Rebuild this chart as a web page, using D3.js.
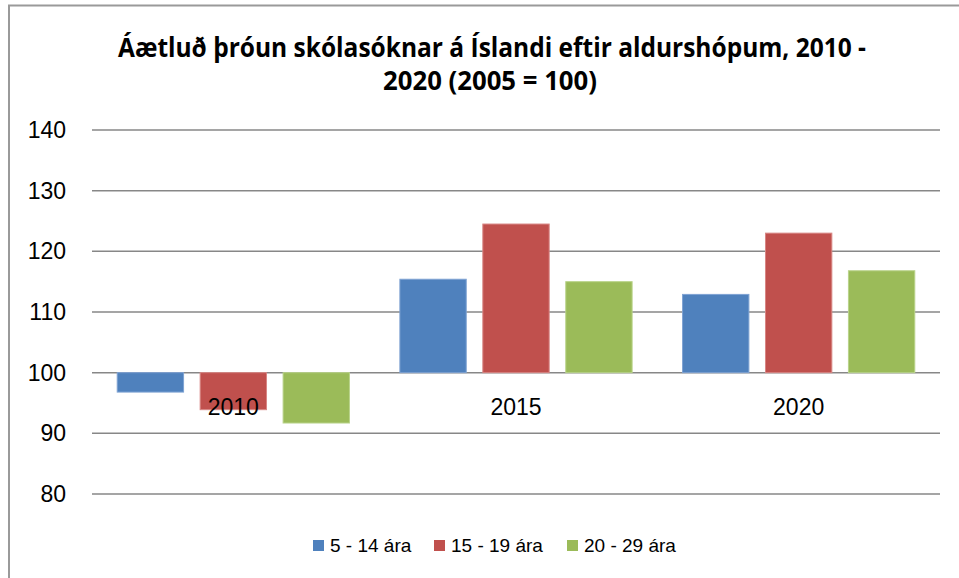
<!DOCTYPE html>
<html lang="is">
<head>
  <meta charset="UTF-8">
  <title>Áætluð þróun skólasóknar</title>
  <script src="https://d3js.org/d3.v7.min.js"></script>
  <style>
    body { margin: 0; background: #fff; }
    svg text { font-family: "Liberation Sans", Arial, sans-serif; fill: #000; }
  </style>
</head>
<body>
  <svg id="chart" width="959" height="578"></svg>
  <script>
    const years = ["2010", "2015", "2020"];
    const groups = ["5 - 14 ára", "15 - 19 ára", "20 - 29 ára"];
    const age5to14 = [96.8, 115.4, 112.9];
    const age15to19 = [93.9, 124.5, 123.0];
    const age20to29 = [91.7, 115.0, 116.8];
    const yTicks = [80, 90, 100, 110, 120, 130, 140];
    const colors = ["#4F81BD", "#C0504D", "#9BBB59"];
    const edges = ["#7FA3D3", "#D88785", "#B9D38A"];

    const seriesValues = [age5to14, age15to19, age20to29];
    const data = years.map((yr, i) => ({
      year: yr,
      values: groups.map((g, j) => ({ group: g, idx: j, value: seriesValues[j][i] }))
    }));

    const svg = d3.select("#chart");

    // outer frame (top + left visible)
    svg.append("path")
      .attr("d", "M9,578 L9,5.5 L959,5.5")
      .attr("fill", "none")
      .attr("stroke", "#9a9a9a")
      .attr("stroke-width", 2);

    // title
    const title = svg.append("text")
      .attr("text-anchor", "middle")
      .style("font-family", "'Open Sans', sans-serif")
      .style("font-weight", "bold")
      .style("font-size", "26px");
    title.append("tspan").attr("x", 492).attr("y", 57)
      .attr("textLength", 748).attr("lengthAdjust", "spacingAndGlyphs")
      .text("Áætluð þróun skólasóknar á Íslandi eftir aldurshópum, 2010 -");
    title.append("tspan").attr("x", 490).attr("y", 90)
      .attr("textLength", 214).attr("lengthAdjust", "spacingAndGlyphs")
      .text("2020 (2005 = 100)");

    const left = 92, right = 940;
    const x = d3.scaleBand().domain(years).range([left, right]).padding(0);
    const xInner = d3.scaleBand().domain(d3.range(groups.length))
      .range([0, x.bandwidth()]).paddingInner(0.2).paddingOuter(0.304);
    const y = d3.scaleLinear().domain([80, 140]).range([494, 130]);

    // gridlines
    svg.append("g").selectAll("line")
      .data(yTicks)
      .join("line")
      .attr("x1", left).attr("x2", right)
      .attr("y1", d => y(d)).attr("y2", d => y(d))
      .attr("stroke", "#878787")
      .attr("stroke-width", 1.5);

    // y axis labels
    const yAxis = svg.append("g")
      .attr("transform", `translate(${left},0)`)
      .call(d3.axisLeft(y).tickValues(yTicks).tickSize(0).tickPadding(26));
    yAxis.select(".domain").remove();
    yAxis.selectAll("text")
      .style("font-size", "23px")
      .style("font-family", "'Liberation Sans', Arial, sans-serif")
      .attr("fill", "#000");

    // bars
    const groupsG = svg.append("g").selectAll("g")
      .data(data)
      .join("g")
      .attr("transform", d => `translate(${x(d.year)},0)`);

    groupsG.selectAll("rect")
      .data(d => d.values)
      .join("rect")
      .attr("x", d => xInner(d.idx))
      .attr("width", xInner.bandwidth())
      .attr("y", d => Math.min(y(d.value), y(100)))
      .attr("height", d => Math.abs(y(d.value) - y(100)))
      .attr("fill", d => colors[d.idx])
      .attr("stroke", d => edges[d.idx])
      .attr("stroke-width", 1);

    // category labels (sitting just under the 100 line)
    svg.append("g").selectAll("text")
      .data(years)
      .join("text")
      .attr("x", d => x(d) + x.bandwidth() / 2)
      .attr("y", y(100) + 42)
      .attr("text-anchor", "middle")
      .style("font-size", "23px")
      .text(d => d);

    // legend
    const legendX = [313, 434, 567];
    const legend = svg.append("g").selectAll("g")
      .data(groups)
      .join("g")
      .attr("transform", (d, i) => `translate(${legendX[i]},540)`);
    legend.append("rect")
      .attr("width", 11).attr("height", 11)
      .attr("fill", (d, i) => colors[i]);
    legend.append("text")
      .attr("x", 17).attr("y", 12)
      .style("font-size", "19px")
      .text(d => d);
  </script>
</body>
</html>
